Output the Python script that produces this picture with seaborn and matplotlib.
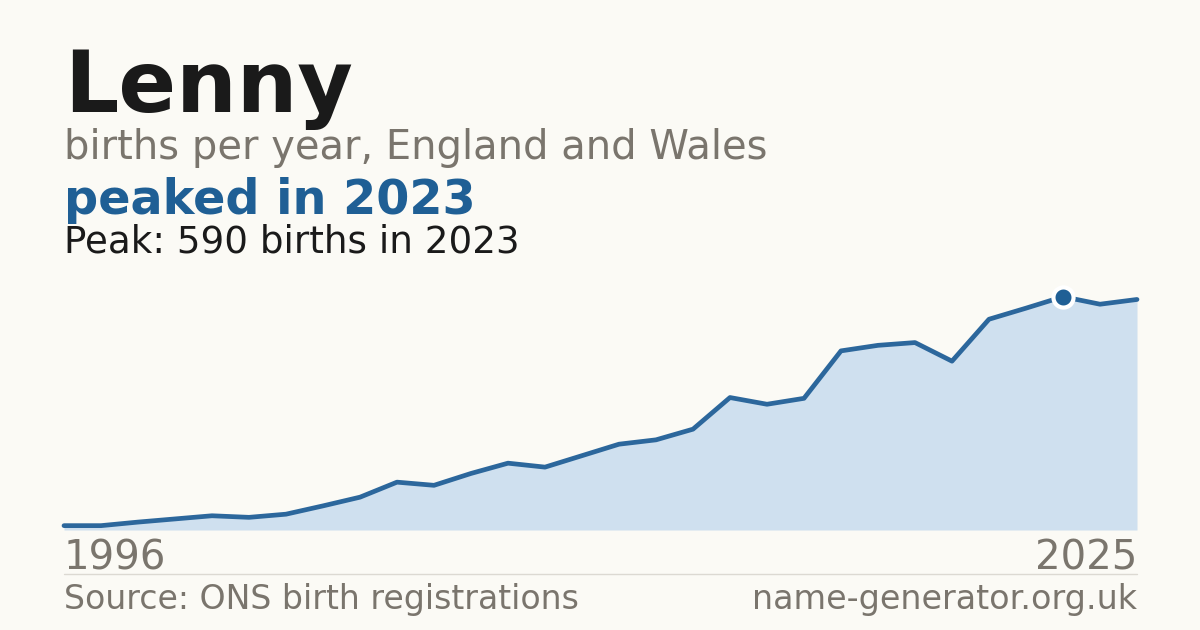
import numpy as np
import pandas as pd
import matplotlib
matplotlib.use("Agg")
import matplotlib.pyplot as plt
import seaborn as sns

# Births per year for the name
years = list(range(1996, 2026))
births = [11, 11, 20, 28, 36, 32, 40, 61, 83, 121,
          113, 143, 169, 159, 188, 217, 228, 255, 335, 318,
          333, 453, 467, 474, 427, 533, 561, 590, 571, 583]

name = "Lenny"
subtitle = "births per year, England and Wales"
headline = "peaked in 2023"
source = "Source: ONS birth registrations"
site = "name-generator.org.uk"

BG = "#fbfaf5"
LINE = "#2c679c"
FILL = "#cfe0ef"
DARK = "#1a1a1a"
GREY = "#7a756d"
BLUE = "#1f5f95"

df = pd.DataFrame({"year": years, "births": births})
peak_idx = int(np.argmax(births))
peak_year = years[peak_idx]
peak_val = births[peak_idx]

sns.set_theme(style="white")
plt.rcParams["font.family"] = ["DejaVu Sans"]

W, H = 1200, 630
fig = plt.figure(figsize=(W / 100, H / 100), dpi=100, facecolor=BG)

# axes box in pixel terms: x 64..1137, y 530 (bottom) .. 296.7 (peak)
left, right, bottom, top = 64, 1137, 530, 296.7
ax = fig.add_axes([left / W, 1 - bottom / H, (right - left) / W, (bottom - top) / H])
ax.set_facecolor(BG)

ax.fill_between(df["year"], df["births"], 0, color=FILL, linewidth=0, zorder=1)
sns.lineplot(data=df, x="year", y="births", ax=ax, color=LINE, linewidth=3.4,
             zorder=3, clip_on=False)
ax.scatter([peak_year], [peak_val], s=210, color=BLUE, edgecolor="white",
           linewidth=3, zorder=4, clip_on=False)

ax.set_xlim(years[0], years[-1])
ax.set_ylim(0, peak_val)
ax.set_yticks([])
ax.set_xticks([years[0], years[-1]])
ax.set_xticklabels([str(years[0]), str(years[-1])], fontsize=29, color=GREY)
tl = ax.get_xticklabels()
tl[0].set_ha("left")
tl[1].set_ha("right")
ax.tick_params(axis="x", length=0, pad=6)
ax.set_xlabel("")
ax.set_ylabel("")
for s in ax.spines.values():
    s.set_visible(False)


def put(x, y, txt, **kw):
    fig.text(x / W, 1 - y / H, txt, va="baseline", **kw)


put(64, 111.7, name, fontsize=61.3, fontweight="bold", color=DARK)
put(64, 159.3, subtitle, fontsize=28.8, color=GREY)
put(64, 214, headline, fontsize=34.4, fontweight="bold", color=BLUE)
put(64, 252.7, f"Peak: {peak_val} births in {peak_year}", fontsize=26.8, color=DARK)
put(64, 609.3, source, fontsize=23.9, color=GREY)
put(1137, 609.3, site, fontsize=24, color=GREY, ha="right")

# thin separator above the footer
fig.add_artist(plt.Line2D([64 / W, 1137 / W], [1 - 574.3 / H, 1 - 574.3 / H],
                          color="#dcd9d2", linewidth=1))

fig.savefig("out.png", dpi=100, facecolor=BG)
